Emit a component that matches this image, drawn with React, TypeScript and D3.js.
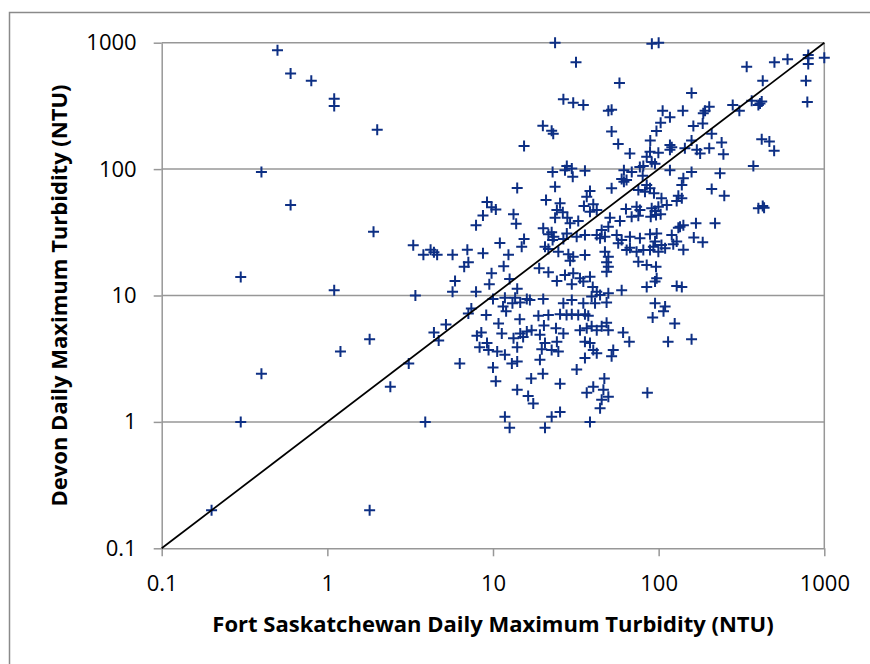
import { useEffect, useRef } from "react"
import * as d3 from "d3"

// Fort Saskatchewan (x) vs Devon (y) daily maximum turbidity, NTU
const fortSask = [
  // sparse, low x
  0.5, 0.6, 0.8, 1.1, 1.1, 2, 0.4, 0.6, 1.9, 0.3,
  1.1, 1.8, 1.2, 0.4, 0.3, 0.2, 1.8, 2.4,
  // low y, x 3-18
  3.1, 3.9, 4.7, 4.4, 5.2, 6.3, 7.1, 9.1, 12, 14.5,
  8, 8.5, 8.3, 9.2, 9.4, 10.8, 11.3, 10.6, 11.8, 13,
  14, 13.3, 14, 14.6, 15.2, 16, 10, 10.4, 14, 16.3,
  17, 17.5, 11.8, 12.6,
  // low y, x 17-160
  18.8, 21.6, 25.4, 27.8, 29.9, 32.7, 35.9, 37.6, 48.5, 20.3,
  17.1, 24, 26.6, 19.2, 33.5, 36.8, 39.4, 42.3, 45.3, 49.7,
  61, 66.5, 92, 107, 125, 114, 20.6, 24.3, 22.6, 24.8,
  19.7, 19.2, 35.9, 38.5, 40.3, 42.3, 35.9, 53.2, 52, 32,
  20, 25.4, 47, 40.3, 36.8, 46.4, 49.7, 45.3, 44.3, 85.5,
  22.6, 25.4, 20.6, 38.5, 158,
  // mid y, x 3-18
  14, 9.2, 9.8, 10.4, 8.7, 7.9, 13.3, 13.8, 3.3, 3.8,
  4.2, 4.4, 4.6, 5.7, 7.0, 7.1, 6.7, 8.7, 11, 12.4,
  11.6, 15.4, 14.9, 9.8, 5.9, 5.7, 3.4, 7.9, 9.5, 12.6,
  14, 10, 11.8, 13.6, 13.1, 14.6, 11.5, 16, 7.4, 15.4,
  // high y, x 20-140
  23.7, 91, 100, 31.7, 58, 26.6, 30.5, 35.1, 49.7, 52,
  20, 22.6, 23.1, 52, 57, 67, 105.7, 117, 102.8, 140,
  97, 89, 88.7, 99.6, 84.7, 90.8, 95, 80.8, 117, 120,
  117, 117, 77, 61.7, 68.8, 22.9, 27.9, 29.9, 35.9, 27.2,
  // high y, x 140-1000
  1000, 800, 800, 800, 600, 500, 340, 425, 775, 790,
  158, 190.6, 186, 202, 162, 184.5, 280, 307, 364.6, 409,
  400, 419, 209, 158, 144, 170, 178, 202, 240, 246,
  419, 466, 498, 373, 158, 234.6,
  // mid y, x 130-450
  141, 138, 209, 249, 138, 400, 425, 433, 141, 168,
  219, 134.6, 163, 184.5, 141, 138,
  // dense centre
  30.3, 59.8, 80.1, 23.7, 52, 38.5, 36.8, 61.7, 64, 84.7,
  75.4, 88.7, 93.7, 82.7, 104, 128.5, 131.5, 112, 20.9, 25.4,
  24.3, 26.4, 35.4, 40.3, 42.3, 38.5, 63.5, 73.6, 77.1, 68.7,
  75.4, 90.8, 95.1, 99.6, 96.4, 89.6, 102.8, 28.1, 32.7, 29.2,
  23.7, 50.8, 58.4, 49.7, 45.3, 42.3, 44.3, 47.4, 131.5, 120,
  128.5, 20.1, 22.6, 23.3, 21.6, 22.9, 27.9, 32, 35.9, 26.6,
  55.8, 59.8, 67.1, 77.1, 88.7, 97.3, 95.1, 92.9, 104, 88.7,
  99.6, 20.6, 21.6, 24.8, 28.5, 30.5, 35.9, 29.2, 47.4, 49.7,
  48.5, 49.7, 48.5, 57, 64.1, 67.1, 73.6, 80.8, 75.4, 84.7,
  96.4, 109.4, 122.5, 19, 21.6, 24.3, 27.2, 30.5, 33.5, 38.5,
  35.1, 29.9, 40, 42.3, 39.4, 44.3, 49.7, 59.8, 84.7, 97.3,
  95.1, 128.5, 16.7, 20.1, 26.6, 29.9, 35.1, 41.3, 48.5, 95.1,
  109.4,
]

const devon = [
  870, 570, 500, 360, 315, 205, 95, 52, 32, 14,
  11, 4.5, 3.6, 2.4, 1.0, 0.2, 0.2, 1.9,

  2.9, 1.0, 4.4, 5.1, 5.9, 2.9, 7.2, 7.0, 7.5, 6.5,
  4.8, 5.1, 3.9, 4.2, 3.7, 6.0, 5.0, 3.6, 3.4, 2.9,
  3.0, 4.6, 3.9, 5.0, 4.7, 5.2, 2.7, 2.1, 1.8, 1.6,
  2.2, 1.4, 1.1, 0.9,

  6.9, 7.0, 7.1, 7.0, 7.1, 7.0, 7.1, 6.9, 6.1, 5.8,
  5.3, 5.5, 5.0, 4.9, 5.3, 5.5, 5.7, 5.3, 5.7, 5.3,
  5.1, 4.3, 6.7, 7.5, 6.0, 4.3, 4.2, 4.3, 3.7, 3.6,
  3.75, 3.1, 4.3, 4.2, 3.7, 3.5, 3.2, 3.7, 3.3, 2.6,
  2.4, 2.0, 2.2, 1.9, 1.7, 1.8, 1.58, 1.5, 1.28, 1.7,
  1.1, 1.2, 0.9, 1.0, 4.5,

  71, 55, 50, 48, 43, 36, 44, 37, 25, 21,
  23, 22, 21, 21, 23, 18.3, 16.9, 21.6, 26, 21,
  17, 28, 24.3, 15, 13, 10.7, 10, 10.7, 12.3, 13.5,
  11.3, 9.4, 9.6, 9.6, 8.7, 8.8, 8.2, 9.4, 7.9, 152,

  1000, 980, 1000, 700, 480, 357, 335, 321, 290, 295,
  220, 201, 190, 198, 158, 133, 290, 257, 233, 290,
  200, 168, 137, 135, 125, 114, 110, 106, 155, 149,
  142, 98, 104, 98, 95, 95, 106, 101, 97, 98,

  760, 800, 753, 679, 740, 700, 645, 500, 500, 340,
  400, 290, 276, 312, 219, 230, 321, 290, 348, 331,
  321, 342, 190, 168, 146, 142, 133, 146, 162, 131,
  172, 165, 140, 106, 95, 92.6,

  84.6, 74.8, 69.6, 61.6, 58.7, 49, 51, 49.5, 36, 37.3,
  37.3, 35, 28.7, 26.4, 23, 11.7,

  87, 83.5, 88.7, 72.6, 70.5, 67, 60.5, 79.5, 82, 74.8,
  68.4, 70.5, 64.4, 66.2, 58.7, 56, 61.6, 52, 57, 53.6,
  47.5, 45.5, 51, 52.7, 47.5, 46, 48.3, 50.4, 47.5, 42,
  42.8, 49, 46.6, 50.4, 43.3, 42, 44, 41.3, 38.8, 37.3,
  41.3, 41.3, 38.8, 35, 33, 30.1, 28.4, 29.2, 34.4, 30.1,
  26.7, 34, 31.6, 29.2, 30.5, 27.5, 31, 29.2, 30.1, 28,
  30.1, 27.5, 29.2, 28.4, 30.5, 31, 26.7, 24.3, 25.1, 22.9,
  22.2, 24.3, 23.3, 22.2, 21.2, 20.3, 20.9, 18.8, 22.2, 20.3,
  18.3, 16.9, 15.4, 25.9, 22.9, 23.9, 22.2, 22.9, 18.5, 17.4,
  16.9, 23.6, 25.4, 16.4, 15.3, 13, 14.5, 15, 13.7, 14.1,
  12.9, 12.3, 11.7, 10.7, 9.8, 10.1, 10.4, 11, 11.7, 13.7,
  12.9, 11.9, 9.2, 9.4, 8.7, 9.2, 8.7, 8.7, 8.8, 8.7,
  8.2,
]

const tickValues = [0.1, 1, 10, 100, 1000]
const xTitle = "Fort Saskatchewan Daily Maximum Turbidity (NTU)"
const yTitle = "Devon Daily Maximum Turbidity (NTU)"

export default function App() {
  const svgRef = useRef<SVGSVGElement>(null)

  useEffect(() => {
    const svg = d3.select(svgRef.current)
    svg.selectAll("*").remove()

    const left = 161.7, right = 824.3, top = 42.7, bottom = 548.3
    const font = "'Open Sans', 'Liberation Sans', sans-serif"
    const gray = "#979797"
    const markColor = "#0d2f84"

    const x = d3.scaleLog().domain([0.1, 1000]).range([left, right])
    const y = d3.scaleLog().domain([0.1, 1000]).range([bottom, top])

    // outer chart frame
    svg.append("rect")
      .attr("x", 9.5).attr("y", 12.5)
      .attr("width", 900).attr("height", 700)
      .attr("fill", "none").attr("stroke", "#8a8a8a").attr("stroke-width", 1.5)

    // horizontal gridlines
    svg.append("g").selectAll("line")
      .data(tickValues.slice(1))
      .enter().append("line")
      .attr("x1", left).attr("x2", right)
      .attr("y1", d => y(d)).attr("y2", d => y(d))
      .attr("stroke", gray).attr("stroke-width", 1.5)

    // right edge of plot area
    svg.append("line")
      .attr("x1", right).attr("x2", right)
      .attr("y1", top).attr("y2", bottom)
      .attr("stroke", gray).attr("stroke-width", 1.5)

    const fmt = (d: any) => String(d)

    const xAxis = svg.append("g")
      .attr("transform", `translate(0,${bottom})`)
      .call(d3.axisBottom(x).tickValues(tickValues).tickFormat(fmt)
        .tickSize(8).tickSizeOuter(0).tickPadding(19))
    const yAxis = svg.append("g")
      .attr("transform", `translate(${left},0)`)
      .call(d3.axisLeft(y).tickValues(tickValues).tickFormat(fmt)
        .tickSize(8).tickSizeOuter(0).tickPadding(17))

    for (const ax of [xAxis, yAxis]) {
      ax.selectAll("path, line").attr("stroke", gray).attr("stroke-width", 1.5)
      ax.selectAll("text")
        .attr("fill", "#000")
        .style("font-family", font)
        .style("font-size", "22px")
    }

    // markers
    const pts = d3.range(Math.min(fortSask.length, devon.length))
    svg.append("g").selectAll("path")
      .data(pts)
      .enter().append("path")
      .attr("transform", i => `translate(${x(fortSask[i])},${y(devon[i])})`)
      .attr("d", "M-5.5,0H5.5M0,-5.5V5.5")
      .attr("stroke", markColor).attr("stroke-width", 2).attr("fill", "none")

    // 1:1 line
    svg.append("line")
      .attr("x1", x(0.1)).attr("y1", y(0.1))
      .attr("x2", x(1000)).attr("y2", y(1000))
      .attr("stroke", "#000").attr("stroke-width", 1.75)

    // axis titles
    svg.append("text")
      .attr("x", (left + right) / 2).attr("y", 632)
      .attr("text-anchor", "middle")
      .style("font-family", font).style("font-size", "22px").style("font-weight", "bold")
      .text(xTitle)
    svg.append("text")
      .attr("transform", `translate(67,${(top + bottom) / 2}) rotate(-90)`)
      .attr("text-anchor", "middle")
      .style("font-family", font).style("font-size", "22px").style("font-weight", "bold")
      .text(yTitle)
  }, [])

  return (
    <svg ref={svgRef} width={870} height={664}
      style={{ position: "absolute", left: 0, top: 0, background: "#fff" }} />
  )
}
